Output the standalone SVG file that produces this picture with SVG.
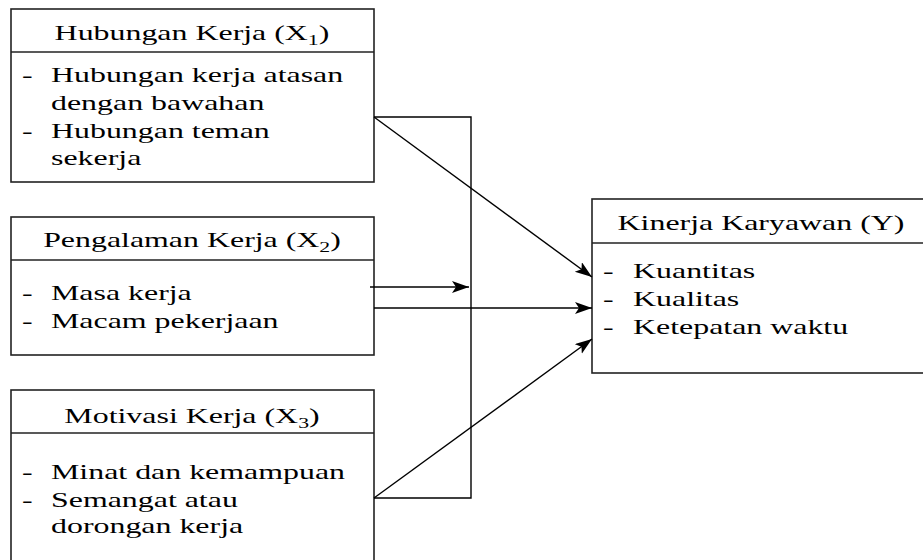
<svg xmlns="http://www.w3.org/2000/svg" width="923" height="560" viewBox="0 0 923 560">
<style>
.box{fill:#fff;stroke:#222;stroke-width:1.6}
.sep{stroke:#222;stroke-width:1.6}
.t{font-family:"Liberation Serif","Times New Roman",serif;font-size:22px;fill:#000}
.c{text-anchor:middle}
.sub{font-size:15px}
.ln{fill:none;stroke:#000;stroke-width:1.4}
</style>
<defs>
<marker id="ah" markerUnits="userSpaceOnUse" markerWidth="18" markerHeight="13" refX="17" refY="6" orient="auto">
<path d="M0,0 L17,6 L0,12 L4,6 Z" fill="#000"/>
</marker>
</defs>
<rect width="923" height="560" fill="#fff"/>
<g id="x1">
<rect class="box" x="11" y="9" width="363" height="173"/>
<line class="sep" x1="11" y1="52" x2="374" y2="52"/>
<text class="t c" transform="translate(192,40) scale(1.45 1)">Hubungan Kerja (X<tspan class="sub" dy="5">1</tspan><tspan dy="-5">)</tspan></text>
<text class="t" transform="translate(22,82) scale(1.45 1)">-</text>
<text class="t" transform="translate(51,82) scale(1.45 1)">Hubungan kerja atasan</text>
<text class="t" transform="translate(51,110) scale(1.45 1)">dengan bawahan</text>
<text class="t" transform="translate(22,138) scale(1.45 1)">-</text>
<text class="t" transform="translate(51,138) scale(1.45 1)">Hubungan teman</text>
<text class="t" transform="translate(51,165) scale(1.45 1)">sekerja</text>
</g>
<g id="x2">
<rect class="box" x="11" y="217" width="363" height="138"/>
<line class="sep" x1="11" y1="260" x2="374" y2="260"/>
<text class="t c" transform="translate(192,247) scale(1.45 1)">Pengalaman Kerja (X<tspan class="sub" dy="5">2</tspan><tspan dy="-5">)</tspan></text>
<text class="t" transform="translate(22,300) scale(1.45 1)">-</text>
<text class="t" transform="translate(51,300) scale(1.45 1)">Masa kerja</text>
<text class="t" transform="translate(22,328) scale(1.45 1)">-</text>
<text class="t" transform="translate(51,328) scale(1.45 1)">Macam pekerjaan</text>
</g>
<g id="x3">
<rect class="box" x="11" y="390" width="363" height="185"/>
<line class="sep" x1="11" y1="433" x2="374" y2="433"/>
<text class="t c" transform="translate(192,423) scale(1.45 1)">Motivasi Kerja (X<tspan class="sub" dy="5">3</tspan><tspan dy="-5">)</tspan></text>
<text class="t" transform="translate(22,479) scale(1.45 1)">-</text>
<text class="t" transform="translate(51,479) scale(1.45 1)">Minat dan kemampuan</text>
<text class="t" transform="translate(22,507) scale(1.45 1)">-</text>
<text class="t" transform="translate(51,507) scale(1.45 1)">Semangat atau</text>
<text class="t" transform="translate(51,533) scale(1.45 1)">dorongan kerja</text>
</g>
<g id="y">
<rect class="box" x="592" y="199" width="345" height="174"/>
<line class="sep" x1="592" y1="243" x2="937" y2="243"/>
<text class="t c" transform="translate(761,230) scale(1.45 1)">Kinerja Karyawan (Y)</text>
<text class="t" transform="translate(603,278) scale(1.45 1)">-</text>
<text class="t" transform="translate(633,278) scale(1.45 1)">Kuantitas</text>
<text class="t" transform="translate(603,306) scale(1.45 1)">-</text>
<text class="t" transform="translate(633,306) scale(1.45 1)">Kualitas</text>
<text class="t" transform="translate(603,334) scale(1.45 1)">-</text>
<text class="t" transform="translate(633,334) scale(1.45 1)">Ketepatan waktu</text>
</g>
<g id="connectors">
<polyline class="ln" points="374,117 471,117 471,498 374,498"/>
<line class="ln" x1="374" y1="117" x2="592" y2="277" marker-end="url(#ah)"/>
<line class="ln" x1="370" y1="287" x2="469" y2="287" marker-end="url(#ah)"/>
<line class="ln" x1="374" y1="308" x2="592" y2="308" marker-end="url(#ah)"/>
<line class="ln" x1="374" y1="498" x2="592" y2="339" marker-end="url(#ah)"/>
</g>
</svg>
